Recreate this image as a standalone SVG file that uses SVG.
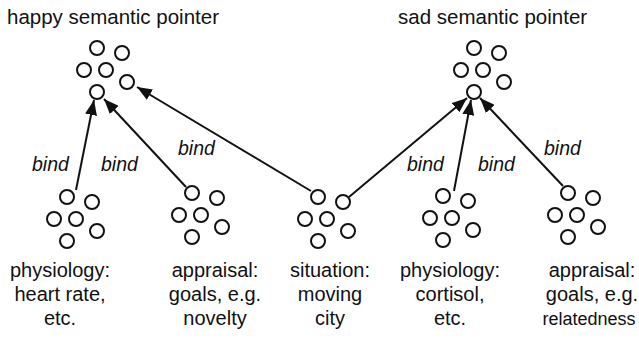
<svg xmlns="http://www.w3.org/2000/svg" width="639" height="342" viewBox="0 0 639 342">
<style>
text{font-family:"Liberation Sans",Arial,sans-serif;fill:#111}
.t{font-size:20.5px}
.l{font-size:20px;text-anchor:middle}
.b{font-size:19.5px;font-style:italic}
circle{fill:#fff;stroke:#111;stroke-width:2}
.c line{stroke:#111;stroke-width:2;marker-end:url(#ah)}
</style>
<defs>
<marker id="ah" markerUnits="userSpaceOnUse" markerWidth="16" markerHeight="12" refX="15" refY="6" orient="auto">
<path d="M0,0 L15,6 L0,12 Z" fill="#111"/>
</marker>
<g id="cl">
<circle cx="0" cy="0" r="7"/>
<circle cx="25" cy="5" r="7"/>
<circle cx="-13" cy="22" r="7"/>
<circle cx="9" cy="22" r="7"/>
<circle cx="30" cy="34" r="7"/>
<circle cx="0" cy="44" r="7"/>
</g>
</defs>
<rect width="639" height="342" fill="#fff"/>
<g id="happy">
<text class="t" x="7" y="24">happy semantic pointer</text>
<use href="#cl" x="97" y="48"/>
</g>
<g id="sad">
<text class="t" x="398" y="24">sad semantic pointer</text>
<use href="#cl" x="474" y="48"/>
</g>
<g id="physiology1">
<use href="#cl" x="67" y="197"/>
<text class="l" x="60" y="277">physiology:</text>
<text class="l" x="60" y="301">heart rate,</text>
<text class="l" x="60" y="325">etc.</text>
</g>
<g id="appraisal1">
<use href="#cl" x="192" y="193"/>
<text class="l" x="215" y="277">appraisal:</text>
<text class="l" x="215" y="301">goals, e.g.</text>
<text class="l" x="215" y="325">novelty</text>
</g>
<g id="situation">
<use href="#cl" x="318" y="197"/>
<text class="l" x="330" y="277">situation:</text>
<text class="l" x="330" y="301">moving</text>
<text class="l" x="330" y="325">city</text>
</g>
<g id="physiology2">
<use href="#cl" x="443" y="196"/>
<text class="l" x="450" y="277">physiology:</text>
<text class="l" x="450" y="301">cortisol,</text>
<text class="l" x="450" y="325">etc.</text>
</g>
<g id="appraisal2">
<use href="#cl" x="568" y="193"/>
<text class="l" x="592" y="277">appraisal:</text>
<text class="l" x="592" y="301">goals, e.g.</text>
<text class="l" x="589" y="325" style="font-size:18px">relatedness</text>
</g>
<g class="c" id="connectors">
<line x1="76" y1="190" x2="94" y2="100"/>
<line x1="186" y1="187" x2="104" y2="99"/>
<line x1="311" y1="191" x2="137" y2="87"/>
<line x1="349" y1="197" x2="467" y2="98"/>
<line x1="454" y1="191" x2="471" y2="100"/>
<line x1="563" y1="186" x2="480" y2="98"/>
</g>
<g id="labels">
<text class="b" x="32" y="171">bind</text>
<text class="b" x="101" y="171">bind</text>
<text class="b" x="178" y="155">bind</text>
<text class="b" x="407" y="171">bind</text>
<text class="b" x="478" y="171">bind</text>
<text class="b" x="544" y="155">bind</text>
</g>
</svg>
